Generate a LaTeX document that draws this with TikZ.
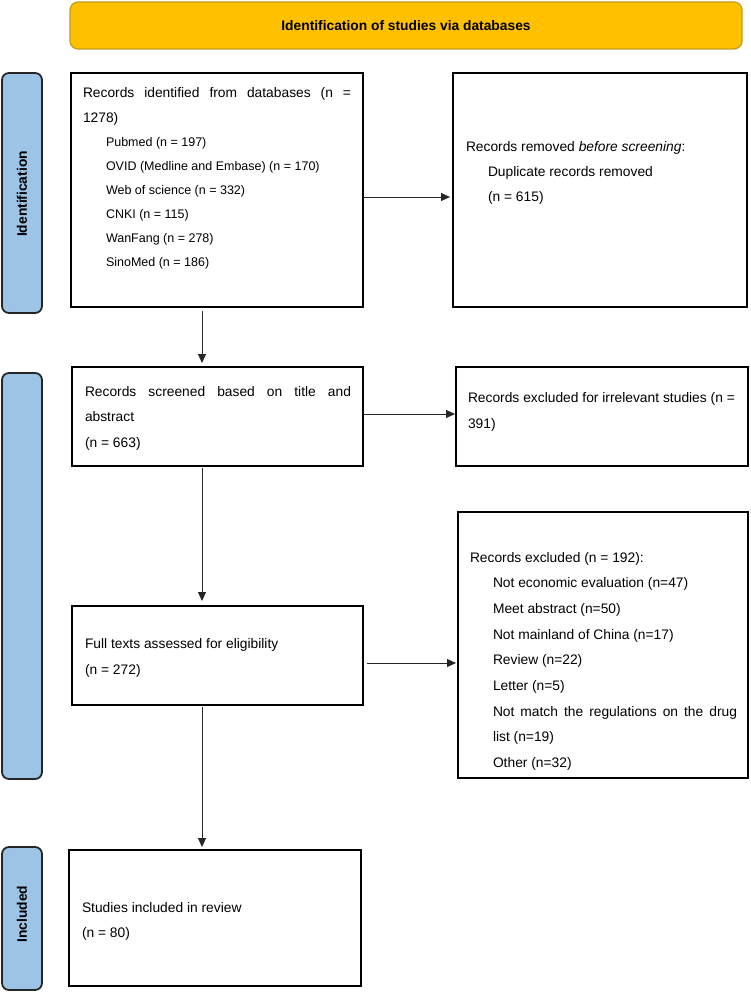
\documentclass[tikz,border=0pt]{standalone}
\usepackage{fontspec}
\setmainfont{Liberation Sans}
\usetikzlibrary{arrows.meta}
\definecolor{ybar}{HTML}{FFC000}
\definecolor{yedge}{HTML}{C49A1C}
\definecolor{bbar}{HTML}{9DC3E6}
\newcommand\tline[1]{\hbox{#1}}
\newcommand\tind[1]{\hbox{\hskip23pt #1}}
\newcommand\tsmall[1]{\hbox{\hskip23pt\fontsize{12.5pt}{15pt}\selectfont #1}}
\newcommand\tjust[2]{\hbox to #1{#2}}
\newcommand\tblock[2]{\vtop{\baselineskip=#1\relax #2}}
\tikzset{
  box/.style={draw=black, line width=1.3pt, fill=white, anchor=north west, inner sep=0pt, outer sep=0pt},
  bar/.style={draw=black!85, line width=1.8pt, fill=bbar, rounded corners=7pt, anchor=north west, inner sep=0pt, outer sep=0pt},
  txt/.style={anchor=base west, inner sep=0pt, outer sep=0pt, font=\fontsize{13.8pt}{24pt}\selectfont},
  arr/.style={-{Triangle[length=9pt,width=8pt]}, line width=0.9pt, draw=black!85},
  lab/.style={font=\fontsize{13.8pt}{17pt}\selectfont\bfseries, rotate=90, inner sep=0pt},
}
\begin{document}
\begin{tikzpicture}[x=1pt,y=-1pt]
\useasboundingbox (0,0) rectangle (750,992);
% header
\node[draw=yedge, fill=ybar, rounded corners=8pt, line width=1.2pt, minimum width=672pt, minimum height=47pt, inner sep=0pt, font=\fontsize{13.8pt}{17pt}\selectfont\bfseries] (title) at (406,25.5) {Identification of studies via databases};
% side bars
\node[bar, minimum width=40pt, minimum height=240pt] (idbar) at (2,73) {};
\node[bar, minimum width=40pt, minimum height=406pt] (scbar) at (2,373) {};
\node[bar, minimum width=40pt, minimum height=143pt] (inbar) at (2,847) {};
\node[lab] (idlab) at (22,194) {Identification};
\node[lab] (inlab) at (22,914) {Included};
% boxes
\node[box, minimum width=292pt, minimum height=234pt] (b1) at (71,73) {};
\node[box, minimum width=294pt, minimum height=234pt] (b2) at (453,73) {};
\node[box, minimum width=291pt, minimum height=99pt] (b3) at (72,367) {};
\node[box, minimum width=292pt, minimum height=99pt] (b4) at (456,367) {};
\node[box, minimum width=291pt, minimum height=99pt] (b5) at (72,606) {};
\node[box, minimum width=290pt, minimum height=266pt] (b6) at (458,512) {};
\node[box, minimum width=292pt, minimum height=136pt] (b7) at (69,850) {};
% texts
\node[txt] (t1) at (83,98) {\tblock{24.1pt}{%
  \tjust{268pt}{Records identified from databases (n =}
  \tline{1278)}
  \tsmall{Pubmed (n = 197)}
  \tsmall{OVID (Medline and Embase) (n = 170)}
  \tsmall{Web of science (n = 332)}
  \tsmall{CNKI (n = 115)}
  \tsmall{WanFang (n = 278)}
  \tsmall{SinoMed (n = 186)}}};
\node[txt] (t2) at (466,152) {\tblock{25pt}{%
  \tline{Records removed \textit{before screening}:}
  \hbox{\hskip22pt Duplicate records removed}
  \hbox{\hskip22pt (n = 615)}}};
\node[txt] (t3) at (85,396) {\tblock{25.5pt}{%
  \tjust{266pt}{Records screened based on title and}
  \tline{abstract}
  \tline{(n = 663)}}};
\node[txt] (t4) at (468,402) {\tblock{26pt}{%
  \tjust{267pt}{Records excluded for irrelevant studies (n =}
  \tline{391)}}};
\node[txt] (t5) at (85,648) {\tblock{26pt}{%
  \tline{Full texts assessed for eligibility}
  \tline{(n = 272)}}};
\node[txt] (t6) at (470,562) {\tblock{25.7pt}{%
  \tline{Records excluded (n = 192):}
  \tind{Not economic evaluation (n=47)}
  \tind{Meet abstract (n=50)}
  \tind{Not mainland of China (n=17)}
  \tind{Review (n=22)}
  \tind{Letter (n=5)}
  \hbox{\hskip23pt\hbox to 244pt{Not match the regulations on the drug}}
  \tind{list (n=19)}
  \tind{Other (n=32)}}};
\node[txt] (t7) at (82,912) {\tblock{25pt}{%
  \tline{Studies included in review}
  \tline{(n = 80)}}};
% connectors
\coordinate (ax) at (202,0);
\coordinate (ay1) at (0,197);
\coordinate (ay2) at (0,414);
\coordinate (ay3) at (0,663);
\draw[arr, shorten <=4pt, shorten >=4pt] (b1.south -| ax) -- (b3.north -| ax);
\draw[arr, shorten <=2pt, shorten >=5pt] (b3.south -| ax) -- (b5.north -| ax);
\draw[arr, shorten <=2pt, shorten >=3pt] (b5.south -| ax) -- (b7.north -| ax);
\draw[arr, shorten >=3pt] (b1.east |- ay1) -- (b2.west |- ay1);
\draw[arr, shorten >=1pt] (b3.east |- ay2) -- (b4.west |- ay2);
\draw[arr, shorten <=4pt, shorten >=2pt] (b5.east |- ay3) -- (b6.west |- ay3);
\end{tikzpicture}
\end{document}
